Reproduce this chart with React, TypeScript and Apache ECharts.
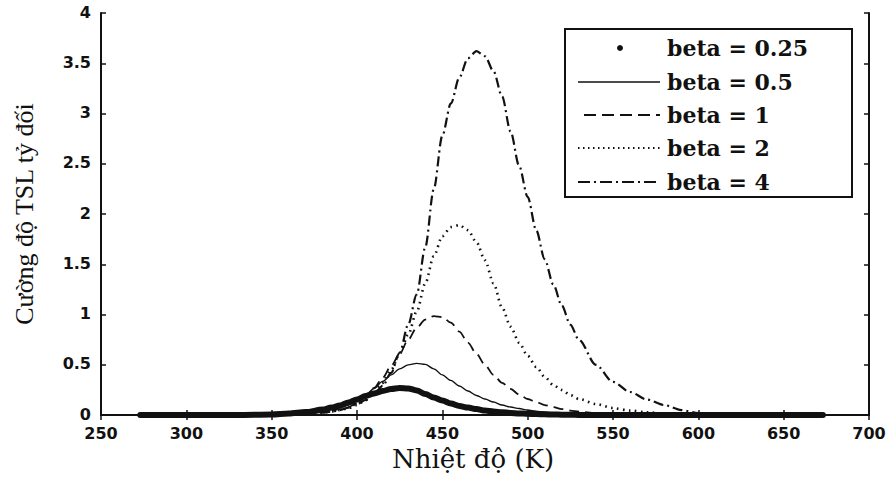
import React, { useEffect, useRef } from "react";
import * as echarts from "echarts";

// Temperature grid (K)
const temps = [273, 300, 330, 350, 360, 370, 380, 385, 390, 395, 400, 405, 410, 415, 420, 425, 430, 435, 440, 445, 450, 455, 460, 465, 470, 475, 480, 485, 490, 495, 500, 505, 510, 515, 520, 525, 530, 540, 550, 560, 570, 580, 590, 600, 620, 650, 673];

const beta025 = [0, 0, 0, 0.005, 0.015, 0.03, 0.055, 0.075, 0.095, 0.125, 0.155, 0.19, 0.215, 0.24, 0.26, 0.27, 0.265, 0.245, 0.21, 0.175, 0.145, 0.115, 0.09, 0.075, 0.06, 0.045, 0.035, 0.028, 0.022, 0.017, 0.013, 0.01, 0.008, 0.006, 0.004, 0.003, 0.002, 0.001, 0, 0, 0, 0, 0, 0, 0, 0, 0];
const beta05 = [0, 0, 0, 0.003, 0.01, 0.02, 0.04, 0.055, 0.075, 0.1, 0.145, 0.2, 0.265, 0.335, 0.4, 0.46, 0.5, 0.515, 0.505, 0.46, 0.4, 0.345, 0.29, 0.24, 0.195, 0.16, 0.13, 0.1, 0.08, 0.065, 0.05, 0.04, 0.03, 0.022, 0.016, 0.012, 0.008, 0.004, 0.002, 0, 0, 0, 0, 0, 0, 0, 0];
const beta1 = [0, 0, 0, 0.002, 0.006, 0.015, 0.03, 0.045, 0.06, 0.08, 0.12, 0.18, 0.27, 0.37, 0.49, 0.61, 0.75, 0.87, 0.95, 0.985, 0.975, 0.92, 0.83, 0.72, 0.61, 0.5, 0.4, 0.32, 0.26, 0.205, 0.16, 0.13, 0.1, 0.08, 0.06, 0.045, 0.035, 0.02, 0.01, 0.005, 0.002, 0, 0, 0, 0, 0, 0];
const beta2 = [0, 0, 0, 0.002, 0.005, 0.012, 0.025, 0.035, 0.05, 0.07, 0.1, 0.15, 0.22, 0.32, 0.45, 0.61, 0.8, 1.03, 1.31, 1.58, 1.78, 1.87, 1.89, 1.84, 1.72, 1.54, 1.31, 1.07, 0.88, 0.72, 0.59, 0.48, 0.38, 0.3, 0.25, 0.2, 0.16, 0.11, 0.07, 0.045, 0.028, 0.016, 0.008, 0.004, 0, 0, 0];
const beta4 = [0, 0, 0, 0.002, 0.005, 0.012, 0.025, 0.035, 0.05, 0.075, 0.11, 0.15, 0.21, 0.29, 0.42, 0.62, 0.9, 1.2, 1.67, 2.25, 2.78, 3.1, 3.36, 3.55, 3.62, 3.57, 3.42, 3.17, 2.82, 2.48, 2.17, 1.84, 1.55, 1.3, 1.09, 0.9, 0.75, 0.5, 0.33, 0.23, 0.155, 0.1, 0.05, 0.02, 0.005, 0, 0];

const seriesNames = ["beta = 0.25", "beta = 0.5", "beta = 1", "beta = 2", "beta = 4"];

const xMin = 250, xMax = 700, xStep = 50;
const yMin = 0, yMax = 4, yStep = 0.5;

const INK = "#111111";

function pairs(vals: number[]) {
  return temps.map((t, i) => [t, vals[i]]);
}

export default function App() {
  const ref = useRef<HTMLDivElement>(null);
  useEffect(() => {
    if (!ref.current) return;
    const chart = echarts.init(ref.current, undefined, { renderer: "svg" });

    const tickLabel = { color: INK, fontFamily: "DejaVu Sans", fontWeight: "bold" as const, fontSize: 16 };
    const frameLine = { show: true, lineStyle: { color: INK, width: 2 } };
    const innerTick = { show: true, inside: true, length: 5, lineStyle: { color: INK, width: 1.5 } };

    const legendYs = [48, 82, 115, 148, 182];
    const legendTextX = 667;

    const option: any = {
      animation: false,
      backgroundColor: "#ffffff",
      grid: { left: 101, right: 20, top: 13, bottom: 59, containLabel: false },
      xAxis: [
        {
          type: "value", min: xMin, max: xMax, interval: xStep, position: "bottom",
          axisLine: frameLine, axisTick: innerTick, splitLine: { show: false },
          axisLabel: { ...tickLabel, margin: 10 },
          name: "Nhiệt độ (K)", nameLocation: "middle", nameGap: 30,
          nameTextStyle: { color: INK, fontFamily: "DejaVu Serif", fontSize: 26, padding: [0, 24, 0, 0] },
        },
        {
          type: "value", min: xMin, max: xMax, interval: xStep, position: "top",
          axisLine: frameLine, axisTick: innerTick, splitLine: { show: false },
          axisLabel: { show: false },
        },
      ],
      yAxis: [
        {
          type: "value", min: yMin, max: yMax, interval: yStep, position: "left",
          axisLine: frameLine, axisTick: innerTick, splitLine: { show: false },
          axisLabel: { ...tickLabel, margin: 10, verticalAlign: "bottom", lineHeight: 16, padding: [0, 0, -7, 0] },
          name: "Cường độ TSL tỷ đối", nameLocation: "middle", nameRotate: 90, nameGap: 64,
          nameTextStyle: { color: INK, fontFamily: "Liberation Serif", fontSize: 26 },
        },
        {
          type: "value", min: yMin, max: yMax, interval: yStep, position: "right",
          axisLine: frameLine, axisTick: innerTick, splitLine: { show: false },
          axisLabel: { show: false },
        },
      ],
      series: [
        {
          name: seriesNames[0], type: "line", data: pairs(beta025), showSymbol: false, clip: false,
          smooth: 0.3, smoothMonotone: "x",
          lineStyle: { color: INK, width: 6, cap: "round", join: "round" }, z: 5,
        },
        {
          name: seriesNames[1], type: "line", data: pairs(beta05), showSymbol: false, clip: false,
          smooth: 0.3, smoothMonotone: "x",
          lineStyle: { color: INK, width: 1.4 },
        },
        {
          name: seriesNames[2], type: "line", data: pairs(beta1), showSymbol: false, clip: false,
          smooth: 0.3, smoothMonotone: "x",
          lineStyle: { color: INK, width: 1.8, type: [10, 6] },
        },
        {
          name: seriesNames[3], type: "line", data: pairs(beta2), showSymbol: false, clip: false,
          smooth: 0.3, smoothMonotone: "x",
          lineStyle: { color: INK, width: 2.6, type: [1.6, 4.4] },
        },
        {
          name: seriesNames[4], type: "line", data: pairs(beta4), showSymbol: false, clip: false,
          smooth: 0.3, smoothMonotone: "x",
          lineStyle: { color: INK, width: 2.2, type: [10, 4, 2, 4] },
        },
      ],
      graphic: [
        {
          type: "group", z: 100,
          children: [
            { type: "rect", shape: { x: 565, y: 29, width: 287, height: 168 }, style: { fill: "#ffffff", stroke: INK, lineWidth: 2 } },
            { type: "circle", shape: { cx: 620, cy: legendYs[0], r: 3 }, style: { fill: INK } },
            { type: "line", shape: { x1: 578, y1: legendYs[1], x2: 660, y2: legendYs[1] }, style: { stroke: INK, lineWidth: 1.6 } },
            { type: "line", shape: { x1: 584, y1: legendYs[2], x2: 660, y2: legendYs[2] }, style: { stroke: INK, lineWidth: 1.8, lineDash: [12, 6] } },
            { type: "line", shape: { x1: 578, y1: legendYs[3], x2: 660, y2: legendYs[3] }, style: { stroke: INK, lineWidth: 2, lineDash: [1.5, 3.5] } },
            { type: "line", shape: { x1: 578, y1: legendYs[4], x2: 660, y2: legendYs[4] }, style: { stroke: INK, lineWidth: 2, lineDash: [12, 4, 2, 4] } },
            ...seriesNames.map((n, i) => ({
              type: "text",
              x: legendTextX,
              y: legendYs[i],
              style: {
                text: n, fill: INK, font: "bold 22px 'DejaVu Serif'",
                textAlign: "left", textVerticalAlign: "middle",
              },
            })),
          ],
        },
      ],
    };
    chart.setOption(option);
    return () => chart.dispose();
  }, []);
  return <div ref={ref} style={{ width: 889, height: 477, position: "absolute", left: 0, top: 0 }} />;
}
